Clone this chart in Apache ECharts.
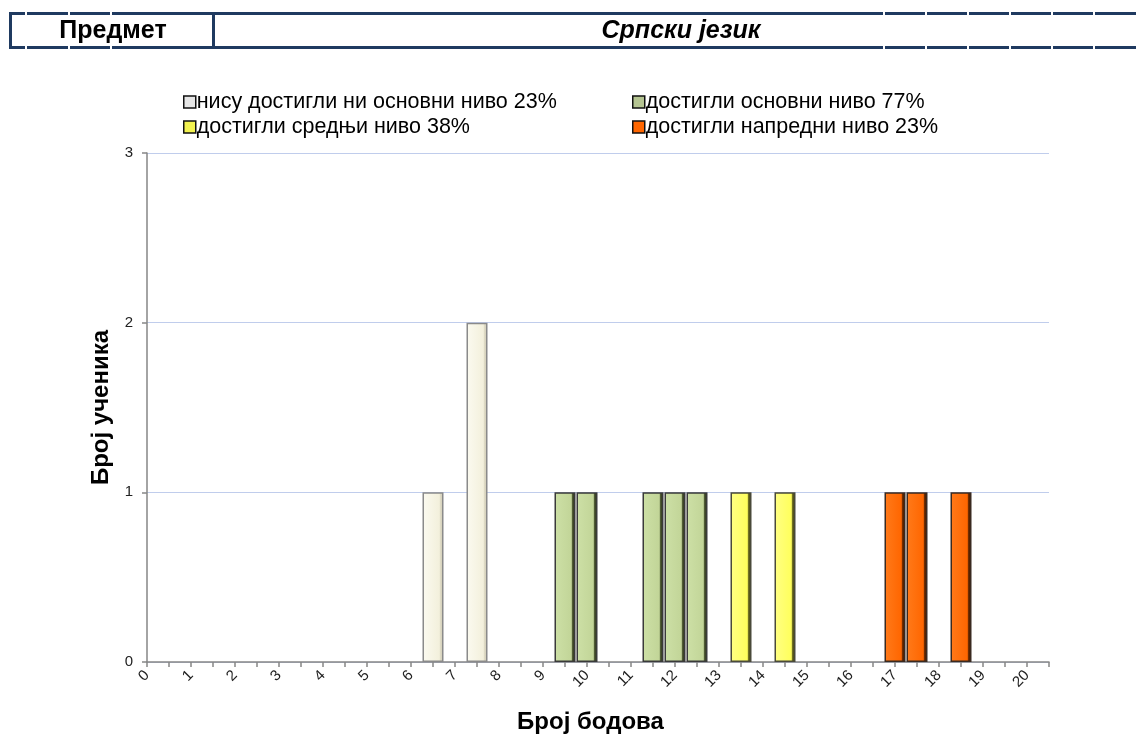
<!DOCTYPE html>
<html>
<head>
<meta charset="utf-8">
<script src="https://cdn.jsdelivr.net/npm/echarts@6/dist/echarts.min.js"></script>
<style>
html,body{margin:0;padding:0;background:#fff;}
#chart{width:1136px;height:740px;}
</style>
</head>
<body>
<div id="chart"></div>
<script>
// Score categories (half points), 0 .. 20.5
const categories = ['0','0.5','1','1.5','2','2.5','3','3.5','4','4.5','5','5.5','6','6.5','7','7.5','8','8.5','9','9.5','10','10.5','11','11.5','12','12.5','13','13.5','14','14.5','15','15.5','16','16.5','17','17.5','18','18.5','19','19.5','20','20.5'];
const yTicks = [0, 1, 2, 3];

const seriesNames = [
  'нису достигли ни основни ниво 23%',
  'достигли основни ниво 77%',
  'достигли средњи ниво 38%',
  'достигли напредни ниво 23%'
];
// scores and number of students per level
const belowBasicScores = ['6.5', '7.5'];
const belowBasicCounts = [1, 2];
const basicScores = ['9.5', '10', '11.5', '12', '12.5'];
const basicCounts = [1, 1, 1, 1, 1];
const middleScores = ['13.5', '14.5'];
const middleCounts = [1, 1];
const advancedScores = ['17', '17.5', '18.5'];
const advancedCounts = [1, 1, 1];

const headerLeft = 'Предмет';
const headerRight = 'Српски језик';
const xName = 'Број бодова';
const yName = 'Број ученика';

const FONT = '"Liberation Sans", Arial, sans-serif';

function pairs(xs, ys) { return xs.map((x, i) => [x, ys[i]]); }
function grad(c1, c2, c3, c4) {
  return new echarts.graphic.LinearGradient(0, 0, 1, 0, [
    {offset: 0, color: c1}, {offset: 0.8, color: c2}, {offset: 0.86, color: c3}, {offset: 1, color: c4}
  ]);
}
const styles = [
  {color: grad('#fbfaf0', '#f3f0dc', '#ddd9c4', '#cfcbb6'), borderColor: '#8a8a8a', legendColor: '#e6e6e6'},
  {color: grad('#cde0a6', '#c2d598', '#4a5530', '#1e2214'), borderColor: '#3a3a3a', legendColor: '#b5c592'},
  {color: grad('#ffff84', '#ffff5c', '#6a6a20', '#2a2a10'), borderColor: '#4a4a3a', legendColor: '#f2f250'},
  {color: grad('#ff7a1a', '#ff6600', '#6a2a00', '#2a1000'), borderColor: '#3a2a20', legendColor: '#ff6600'}
];
const dataSets = [
  pairs(belowBasicScores, belowBasicCounts),
  pairs(basicScores, basicCounts),
  pairs(middleScores, middleCounts),
  pairs(advancedScores, advancedCounts)
];

const legendPos = [
  {left: 183, top: 91},
  {left: 632, top: 91},
  {left: 183, top: 116},
  {left: 632, top: 116}
];

const navy = '#1f3a60';
function hline(y) {
  return {type: 'rect', shape: {x: 9, y: y, width: 1127, height: 3}, style: {fill: navy}, z: 10};
}
const gapXs = [25, 68, 110, 883, 925, 967, 1009, 1051, 1093];
const graphics = [
  hline(12), hline(46),
  {type: 'rect', shape: {x: 9, y: 12, width: 3, height: 37}, style: {fill: navy}, z: 10},
  {type: 'rect', shape: {x: 212, y: 13, width: 3, height: 35}, style: {fill: navy}, z: 10}
];
gapXs.forEach(gx => {
  graphics.push({type: 'rect', shape: {x: gx, y: 11, width: 2, height: 5}, style: {fill: '#fff'}, z: 11});
  graphics.push({type: 'rect', shape: {x: gx, y: 45, width: 2, height: 5}, style: {fill: '#fff'}, z: 11});
});
graphics.push({type: 'text', x: 113, y: 31, style: {text: headerLeft, font: 'bold 25px ' + FONT, fill: '#000', textAlign: 'center', textVerticalAlign: 'middle'}, z: 12});
graphics.push({type: 'text', x: 681, y: 31, style: {text: headerRight, font: 'italic bold 25px ' + FONT, fill: '#000', textAlign: 'center', textVerticalAlign: 'middle'}, z: 12});

const chart = echarts.init(document.getElementById('chart'), null, {renderer: 'canvas'});
chart.setOption({
  backgroundColor: '#fff',
  animation: false,
  graphic: graphics,
  legend: seriesNames.map((n, i) => ({
    data: [n],
    left: legendPos[i].left,
    top: legendPos[i].top,
    icon: 'rect',
    itemWidth: 12,
    itemHeight: 12,
    padding: 0,
    itemStyle: {borderColor: '#111', borderWidth: 1.5, color: styles[i].legendColor},
    textStyle: {fontSize: 21.5, color: '#000', fontFamily: FONT, padding: [0, 0, 0, -4]}
  })),
  grid: {left: 147, right: 87, top: 153, bottom: 78, containLabel: false},
  xAxis: {
    type: 'category',
    data: categories,
    boundaryGap: false,
    name: xName,
    nameLocation: 'middle',
    nameGap: 48,
    nameTextStyle: {fontSize: 24, fontWeight: 'bold', color: '#000', fontFamily: FONT, padding: [0, 15, 0, 0]},
    axisLine: {lineStyle: {color: '#868686', width: 1.5}},
    axisTick: {show: true, interval: 0, length: 5, lineStyle: {color: '#868686', width: 1.5}},
    axisLabel: {
      interval: (idx) => idx % 2 === 0,
      rotate: 45,
      fontSize: 15,
      color: '#222',
      margin: 11,
      fontFamily: FONT
    },
    splitLine: {show: false}
  },
  yAxis: {
    type: 'value',
    min: yTicks[0],
    max: yTicks[yTicks.length - 1],
    interval: 1,
    name: yName,
    nameLocation: 'middle',
    nameGap: 29,
    nameTextStyle: {fontSize: 24, fontWeight: 'bold', color: '#000', fontFamily: FONT},
    axisLine: {show: true, lineStyle: {color: '#868686', width: 1.5}},
    axisTick: {show: true, length: 5, lineStyle: {color: '#868686', width: 1.5}},
    axisLabel: {fontSize: 15, color: '#222', margin: 14, fontFamily: FONT},
    splitLine: {lineStyle: {color: '#c0cdec', width: 1}}
  },
  series: seriesNames.map((n, i) => ({
    name: n,
    type: 'bar',
    data: dataSets[i],
    barWidth: 21,
    barGap: '-100%',
    itemStyle: {color: styles[i].color, borderColor: styles[i].borderColor, borderWidth: 1.5}
  }))
});
</script>
</body>
</html>
